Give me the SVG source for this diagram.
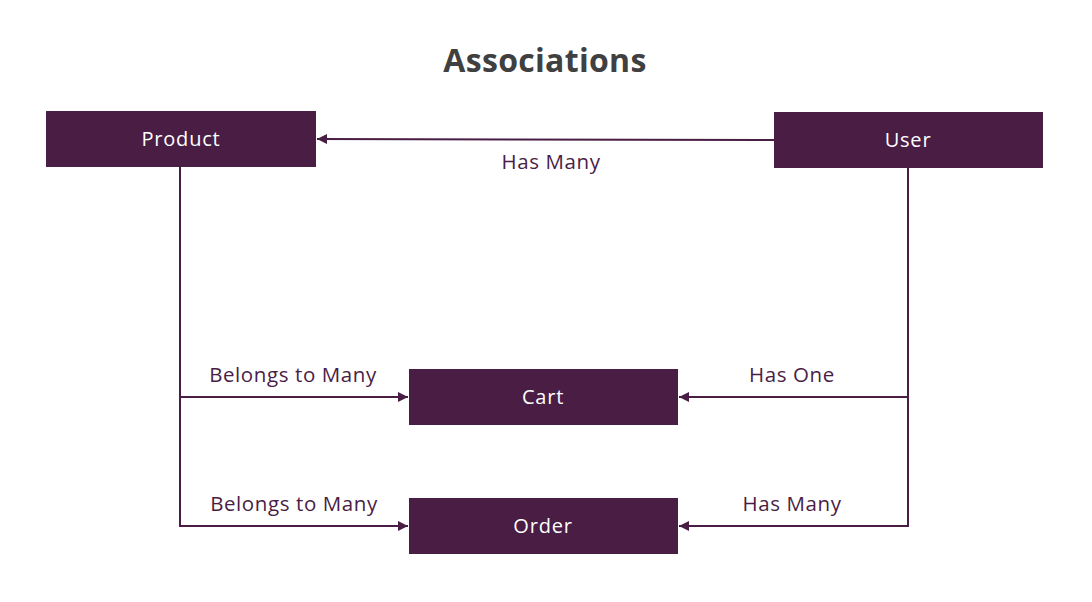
<svg xmlns="http://www.w3.org/2000/svg" width="1092" height="602" viewBox="0 0 1092 602">
<defs>
<style>
.box{fill:#4a1d45}
.nt{fill:#ffffff;font-family:"Open Sans","Noto Sans",sans-serif;font-size:20px;letter-spacing:0.8px;text-anchor:middle}
.lbl{fill:#4a1d45;font-family:"Open Sans","Noto Sans",sans-serif;font-size:20.5px;letter-spacing:0.6px;text-anchor:middle}
.ln{stroke:#4a1d45;stroke-width:2;fill:none}
.title{fill:#404040;font-family:"Open Sans","Noto Sans",sans-serif;font-size:32px;font-weight:bold;letter-spacing:0.3px;text-anchor:middle}
</style>
<marker id="ah" viewBox="0 0 10 10" refX="10" refY="5" markerWidth="5" markerHeight="5" orient="auto" markerUnits="strokeWidth">
<path d="M0,0 L10,5 L0,10 z" fill="#4a1d45"/>
</marker>
</defs>
<rect width="1092" height="602" fill="#ffffff"/>
<text class="title" x="545" y="72">Associations</text>
<g id="connectors">
<line class="ln" x1="774" y1="140" x2="317" y2="139" marker-end="url(#ah)"/>
<text class="lbl" x="551" y="169">Has Many</text>
<polyline class="ln" points="180,167 180,526 408,526" marker-end="url(#ah)"/>
<line class="ln" x1="180" y1="397" x2="408" y2="397" marker-end="url(#ah)"/>
<polyline class="ln" points="908,168 908,526 679,526" marker-end="url(#ah)"/>
<line class="ln" x1="908" y1="397" x2="679" y2="397" marker-end="url(#ah)"/>
<text class="lbl" x="293" y="382">Belongs to Many</text>
<text class="lbl" x="294" y="511">Belongs to Many</text>
<text class="lbl" x="792" y="382">Has One</text>
<text class="lbl" x="792" y="511">Has Many</text>
</g>
<g id="product"><rect class="box" x="46" y="111" width="270" height="56"/><text class="nt" x="181" y="146">Product</text></g>
<g id="user"><rect class="box" x="774" y="112" width="269" height="56"/><text class="nt" x="908" y="147">User</text></g>
<g id="cart"><rect class="box" x="409" y="369" width="269" height="56"/><text class="nt" x="543" y="404">Cart</text></g>
<g id="order"><rect class="box" x="409" y="498" width="269" height="56"/><text class="nt" x="543" y="533">Order</text></g>
</svg>
